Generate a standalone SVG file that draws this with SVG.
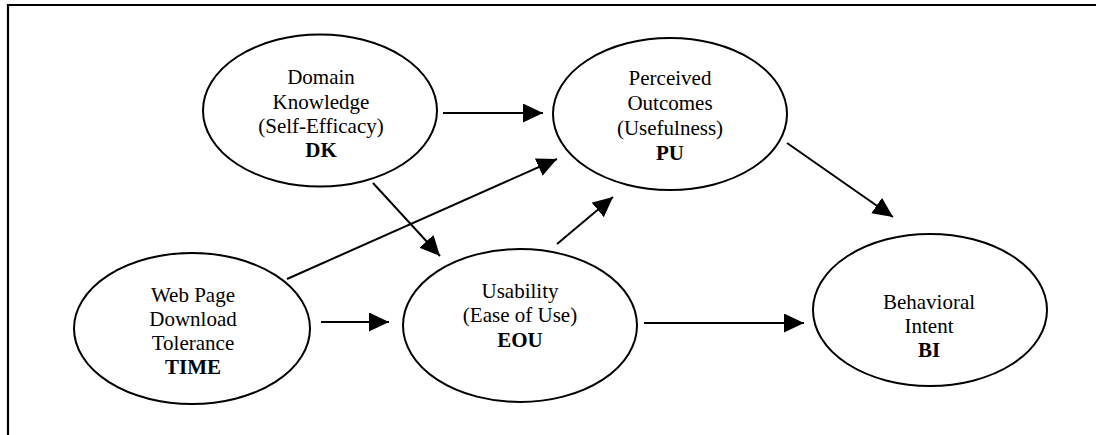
<svg xmlns="http://www.w3.org/2000/svg" width="1096" height="435" viewBox="0 0 1096 435">
<style>
.node ellipse{fill:#fff;stroke:#000;stroke-width:2}
.node text{font-family:"Liberation Serif","Times New Roman",serif;font-size:21px;fill:#000;text-anchor:middle}
.node text.b{font-weight:bold}
.conn line{stroke:#000;stroke-width:2;marker-end:url(#ah)}
</style>
<defs>
<marker id="ah" markerUnits="userSpaceOnUse" markerWidth="22" markerHeight="20" refX="20" refY="9.5" orient="auto">
<path d="M0,0 L20,9.5 L0,19 z" fill="#000"/>
</marker>
</defs>
<rect width="1096" height="435" fill="#fff"/>
<path d="M8,435 V5 H1096" fill="none" stroke="#000" stroke-width="2.2"/>
<g id="dk" class="node">
<ellipse cx="320" cy="110.5" rx="117" ry="76"/>
<text x="321" y="84">Domain</text>
<text x="321" y="109">Knowledge</text>
<text x="321" y="133">(Self-Efficacy)</text>
<text x="321" y="157" class="b">DK</text>
</g>
<g id="pu" class="node">
<ellipse cx="670" cy="114" rx="117" ry="76"/>
<text x="670" y="85">Perceived</text>
<text x="670" y="110">Outcomes</text>
<text x="670" y="135">(Usefulness)</text>
<text x="670" y="160" class="b">PU</text>
</g>
<g id="time" class="node">
<ellipse cx="192" cy="328.5" rx="118" ry="75.5"/>
<text x="193" y="302">Web Page</text>
<text x="193" y="326">Download</text>
<text x="193" y="350">Tolerance</text>
<text x="193" y="374" class="b">TIME</text>
</g>
<g id="eou" class="node">
<ellipse cx="520" cy="325.5" rx="117" ry="76.5"/>
<text x="520" y="298">Usability</text>
<text x="520" y="322">(Ease of Use)</text>
<text x="520" y="347" class="b">EOU</text>
</g>
<g id="bi" class="node">
<ellipse cx="930" cy="310" rx="117" ry="76"/>
<text x="929" y="309">Behavioral</text>
<text x="929" y="333">Intent</text>
<text x="929" y="357" class="b">BI</text>
</g>
<g id="connectors" class="conn">
<line x1="443" y1="113" x2="543" y2="113"/>
<line x1="287" y1="279" x2="557" y2="159"/>
<line x1="373" y1="183" x2="440" y2="256"/>
<line x1="557" y1="244" x2="613" y2="197"/>
<line x1="321" y1="322" x2="389" y2="322"/>
<line x1="644" y1="323" x2="804" y2="323"/>
<line x1="787" y1="143" x2="893" y2="217"/>
</g>
</svg>
